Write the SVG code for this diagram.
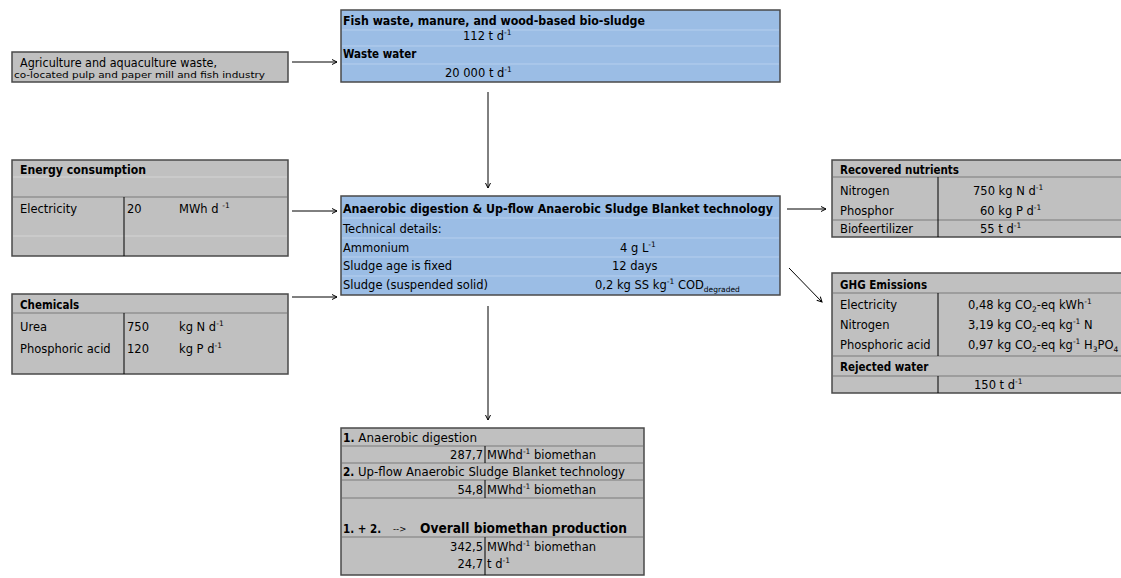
<svg xmlns="http://www.w3.org/2000/svg" width="1121" height="578" viewBox="0 0 1121 578">
<style>
text{font-family:"DejaVu Sans",Verdana,sans-serif;font-size:11.5px;fill:#000}
.b{font-family:"DejaVu Sans Condensed","DejaVu Sans",sans-serif;font-weight:bold;font-stretch:condensed}
.s{font-size:7.5px}
.box{stroke:#4a4a4a;stroke-width:1.5}
.g{fill:#c0c0c0}
.bl{fill:#9bbde5}
.ln{stroke:#7a7a7a;stroke-width:1}
.fl{stroke:#d4d4d4;stroke-width:1}
.fb{stroke:#b6cfee;stroke-width:1}
.dv{stroke:#000;stroke-width:1}
.c{stroke:#000;stroke-width:1;fill:none;marker-end:url(#ah)}
</style>
<defs>
<marker id="ah" markerWidth="8" markerHeight="8" refX="6" refY="3" orient="auto" markerUnits="userSpaceOnUse">
<path d="M1,0.5 L6,3 L1,5.5" fill="none" stroke="#000" stroke-width="1"/>
</marker>
</defs>

<g id="connectors">
<line class="c" x1="292" y1="62" x2="337" y2="62"/>
<line class="c" x1="488" y1="92" x2="488" y2="188"/>
<line class="c" x1="292" y1="211" x2="337" y2="211"/>
<line class="c" x1="292" y1="297" x2="337" y2="297"/>
<line class="c" x1="787" y1="209" x2="826" y2="209"/>
<line class="c" x1="789" y1="268" x2="822" y2="302"/>
<line class="c" x1="488" y1="306" x2="488" y2="420"/>
</g>

<g id="agriculture">
<rect class="box g" x="12" y="52" width="276" height="30"/>
<text x="20" y="67" textLength="197" lengthAdjust="spacingAndGlyphs">Agriculture and aquaculture waste,</text>
<text x="14" y="78" style="font-size:9.5px" textLength="251" lengthAdjust="spacingAndGlyphs">co-located pulp and paper mill and fish industry</text>
</g>

<g id="feedstock">
<rect class="box bl" x="341" y="10" width="439" height="72"/>
<line class="fb" x1="342" y1="30" x2="779" y2="30"/>
<line class="fb" x1="342" y1="46" x2="779" y2="46"/>
<line class="fb" x1="342" y1="64" x2="779" y2="64"/>
<text class="b" x="343" y="25" textLength="302" lengthAdjust="spacingAndGlyphs">Fish waste, manure, and wood-based bio-sludge</text>
<text x="463" y="40">112 t d<tspan class="s" dy="-5">-1</tspan></text>
<text class="b" x="343" y="58">Waste water</text>
<text x="445" y="77">20 000 t d<tspan class="s" dy="-5">-1</tspan></text>
</g>

<g id="energy">
<rect class="box g" x="12" y="160" width="276" height="96"/>
<line class="fl" x1="13" y1="177" x2="287" y2="177"/>
<line class="ln" x1="13" y1="197" x2="287" y2="197"/>
<line class="fl" x1="13" y1="236" x2="287" y2="236"/>
<line class="dv" x1="124" y1="197" x2="124" y2="256"/>
<text class="b" x="20" y="174" textLength="126" lengthAdjust="spacingAndGlyphs">Energy consumption</text>
<text x="20" y="213">Electricity</text>
<text x="127" y="213">20</text>
<text x="179" y="213">MWh d <tspan class="s" dy="-5">-1</tspan></text>
</g>

<g id="chemicals">
<rect class="box g" x="12" y="294" width="276" height="80"/>
<line class="ln" x1="13" y1="313" x2="287" y2="313"/>
<line class="dv" x1="124" y1="313" x2="124" y2="374"/>
<text class="b" x="20" y="309">Chemicals</text>
<text x="20" y="331">Urea</text>
<text x="127" y="331">750</text>
<text x="179" y="331">kg N d<tspan class="s" dy="-5">-1</tspan></text>
<text x="20" y="353">Phosphoric acid</text>
<text x="127" y="353">120</text>
<text x="179" y="353">kg P d<tspan class="s" dy="-5">-1</tspan></text>
</g>

<g id="digestion">
<rect class="box bl" x="341" y="196" width="439" height="99"/>
<line class="fb" x1="342" y1="218" x2="779" y2="218"/>
<line class="fb" x1="342" y1="238" x2="779" y2="238"/>
<line class="fb" x1="342" y1="257" x2="779" y2="257"/>
<line class="fb" x1="342" y1="276" x2="779" y2="276"/>
<text class="b" x="343" y="213" textLength="430" lengthAdjust="spacingAndGlyphs">Anaerobic digestion &amp;  Up-flow Anaerobic Sludge Blanket technology</text>
<text x="343" y="233">Technical details:</text>
<text x="343" y="252">Ammonium</text>
<text x="620" y="252">4 g L<tspan class="s" dy="-5">-1</tspan></text>
<text x="343" y="270">Sludge age is fixed</text>
<text x="612" y="270">12 days</text>
<text x="343" y="289">Sludge (suspended solid)</text>
<text x="595" y="289">0,2 kg SS kg<tspan class="s" dy="-5">-1</tspan><tspan dy="5"> COD</tspan><tspan class="s" dy="3">degraded</tspan></text>
</g>

<g id="nutrients">
<rect class="box g" x="832" y="160" width="300" height="77"/>
<line class="ln" x1="833" y1="177" x2="1121" y2="177"/>
<line class="ln" x1="833" y1="220" x2="1121" y2="220"/>
<line class="dv" x1="938" y1="177" x2="938" y2="237"/>
<text class="b" x="840" y="174">Recovered nutrients</text>
<text x="840" y="195">Nitrogen</text>
<text x="973" y="195">750 kg N d<tspan class="s" dy="-5">-1</tspan></text>
<text x="840" y="215">Phosphor</text>
<text x="980" y="215">60 kg P d<tspan class="s" dy="-5">-1</tspan></text>
<text x="840" y="233">Biofeertilizer</text>
<text x="980" y="233">55 t d<tspan class="s" dy="-5">-1</tspan></text>
</g>

<g id="emissions">
<rect class="box g" x="832" y="273" width="300" height="120"/>
<line class="ln" x1="833" y1="293" x2="1121" y2="293"/>
<line class="ln" x1="833" y1="356" x2="1121" y2="356"/>
<line class="ln" x1="833" y1="376" x2="1121" y2="376"/>
<line class="dv" x1="938" y1="293" x2="938" y2="356"/>
<line class="dv" x1="938" y1="376" x2="938" y2="393"/>
<text class="b" x="840" y="289">GHG Emissions</text>
<text x="840" y="309">Electricity</text>
<text x="968" y="309">0,48 kg CO<tspan class="s" dy="3">2</tspan><tspan dy="-3">-eq kWh</tspan><tspan class="s" dy="-5">-1</tspan></text>
<text x="840" y="329">Nitrogen</text>
<text x="968" y="329">3,19 kg CO<tspan class="s" dy="3">2</tspan><tspan dy="-3">-eq kg</tspan><tspan class="s" dy="-5">-1</tspan><tspan dy="5"> N</tspan></text>
<text x="840" y="349">Phosphoric acid</text>
<text x="968" y="349">0,97 kg CO<tspan class="s" dy="3">2</tspan><tspan dy="-3">-eq kg</tspan><tspan class="s" dy="-5">-1</tspan><tspan dy="5"> H</tspan><tspan class="s" dy="3">3</tspan><tspan dy="-3">PO</tspan><tspan class="s" dy="3">4</tspan></text>
<text class="b" x="840" y="371">Rejected water</text>
<text x="974" y="389">150 t d<tspan class="s" dy="-5">-1</tspan></text>
</g>

<g id="biomethane">
<rect class="box g" x="341" y="428" width="303" height="147"/>
<line class="ln" x1="342" y1="446" x2="643" y2="446"/>
<line class="ln" x1="342" y1="463" x2="643" y2="463"/>
<line class="ln" x1="342" y1="480" x2="643" y2="480"/>
<line class="ln" x1="342" y1="498" x2="643" y2="498"/>
<line class="ln" x1="342" y1="537" x2="643" y2="537"/>
<line class="dv" x1="485" y1="446" x2="485" y2="463"/>
<line class="dv" x1="485" y1="480" x2="485" y2="498"/>
<line class="dv" x1="485" y1="537" x2="485" y2="575"/>
<text x="343" y="442" textLength="134" lengthAdjust="spacingAndGlyphs"><tspan class="b">1.</tspan> Anaerobic digestion</text>
<text x="483" y="459" text-anchor="end">287,7</text>
<text x="487" y="459">MWhd<tspan class="s" dy="-5">-1</tspan><tspan dy="5"> biomethan</tspan></text>
<text x="343" y="476" textLength="282" lengthAdjust="spacingAndGlyphs"><tspan class="b">2.</tspan> Up-flow Anaerobic Sludge Blanket technology</text>
<text x="483" y="494" text-anchor="end">54,8</text>
<text x="487" y="494">MWhd<tspan class="s" dy="-5">-1</tspan><tspan dy="5"> biomethan</tspan></text>
<text class="b" x="343" y="533">1. + 2.</text>
<text x="393" y="532" style="font-size:8.5px">--&gt;</text>
<text class="b" x="420" y="533" style="font-size:14px" textLength="207" lengthAdjust="spacingAndGlyphs">Overall biomethan production</text>
<text x="483" y="551" text-anchor="end">342,5</text>
<text x="487" y="551">MWhd<tspan class="s" dy="-5">-1</tspan><tspan dy="5"> biomethan</tspan></text>
<text x="483" y="568" text-anchor="end">24,7</text>
<text x="487" y="568">t d<tspan class="s" dy="-5">-1</tspan></text>
</g>
</svg>
